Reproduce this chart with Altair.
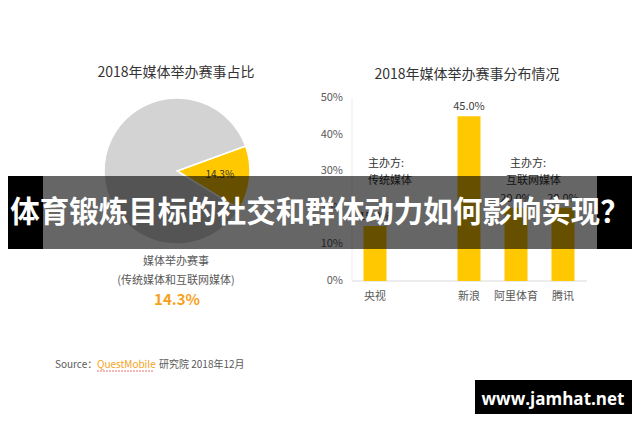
import math
import altair as alt
import pandas as pd

FONT = "Noto Sans CJK SC"
O = 8  # page margin compensation
W, H = 624, 406

# ---------------- data ----------------
pie_labels = ["媒体举办赛事", "其他赛事"]
pie_values = [14.3, 85.7]
pie_text = ["14.3%", ""]

bar_cats = ["央视", "新浪", "阿里体育", "腾讯"]
bar_values = [15.0, 45.0, 20.0, 20.0]
x_domain = ["央视", " ", "新浪", "阿里体育", "腾讯"]
y_ticks = [0, 10, 20, 30, 40, 50]

YELLOW = "#FFC800"
GRAY = "#D3D3D3"


def px(v):
    return v - O


one = pd.DataFrame({"k": [0]})


def label(txt, x, y, size=11, color="#333333", weight="normal", align="center", font=FONT):
    return alt.Chart(one).mark_text(
        text=txt, fontSize=size, color=color, fontWeight=weight, align=align,
        baseline="middle", font=font
    ).encode(x=alt.value(px(x)), y=alt.value(px(y)))


def rect(x0, x1, y0, y1, color="black", opacity=1.0):
    return alt.Chart(one).mark_rect(color=color, opacity=opacity).encode(
        x=alt.value(px(x0)), x2=alt.value(px(x1)), y=alt.value(px(y0)), y2=alt.value(px(y1))
    )


# ---------------- pie ----------------
pie_df = pd.DataFrame({"label": pie_labels, "value": pie_values, "txt": pie_text, "idx": [0, 1]})
start = math.radians(70)
theta_scale = alt.Scale(domain=[0, 100], range=[start, start + 2 * math.pi])
theta = alt.Theta("value:Q", stack=True, scale=theta_scale)
cx, cy = 177, 171

pie = alt.Chart(pie_df).mark_arc(outerRadius=73, stroke="white", strokeWidth=1.5).encode(
    theta=theta,
    color=alt.Color("label:N", scale=alt.Scale(domain=pie_labels, range=[YELLOW, GRAY]), legend=None),
    order=alt.Order("idx:Q"),
    x=alt.value(px(cx)), y=alt.value(px(cy)),
)
pie_lbl = alt.Chart(pie_df).mark_text(radius=43, fontSize=10, color="#333333", font=FONT).encode(
    theta=theta, order=alt.Order("idx:Q"), text="txt:N",
    x=alt.value(px(cx)), y=alt.value(px(cy)),
)

# ---------------- bars ----------------
bar_df = pd.DataFrame({"cat": bar_cats, "value": bar_values,
                       "txt": [f"{v:.1f}%" for v in bar_values]})
xs = alt.Scale(domain=x_domain, range=[px(351.5), px(586.5)], paddingInner=0, paddingOuter=0)
ys = alt.Scale(domain=[0, 50], range=[px(281), px(98)])

bars = alt.Chart(bar_df).mark_bar(size=23, color=YELLOW).encode(
    x=alt.X("cat:N", scale=xs, axis=None),
    y=alt.Y("value:Q", scale=ys, axis=None),
)
bar_txt = alt.Chart(bar_df).mark_text(baseline="bottom", dy=-4, fontSize=11, color="#404040", font=FONT).encode(
    x=alt.X("cat:N", scale=xs, axis=None),
    y=alt.Y("value:Q", scale=ys, axis=None),
    text="txt:N",
)
ytick_df = pd.DataFrame({"v": y_ticks, "t": [f"{v}%" for v in y_ticks]})
ylabels = alt.Chart(ytick_df).mark_text(align="right", baseline="middle", fontSize=11,
                                        color="#595959", font=FONT).encode(
    x=alt.value(px(343)), y=alt.Y("v:Q", scale=ys, axis=None), text="t:N"
)
xlab_df = pd.DataFrame({"cat": bar_cats})
xlabels = alt.Chart(xlab_df).mark_text(baseline="middle", fontSize=11, color="#595959", font=FONT).encode(
    x=alt.X("cat:N", scale=xs, axis=None), y=alt.value(px(297)), text="cat:N"
)
yaxis = alt.Chart(one).mark_rule(color="#ededed").encode(
    x=alt.value(px(352)), y=alt.value(px(98)), y2=alt.value(px(281)))
xaxis = alt.Chart(one).mark_rule(color="#d9d9d9").encode(
    x=alt.value(px(352)), x2=alt.value(px(587)), y=alt.value(px(281)))

# ---------------- texts ----------------
texts = [
    label("2018年媒体举办赛事占比", 176, 73, size=14, color="#333333"),
    label("2018年媒体举办赛事分布情况", 467, 75, size=14, color="#333333"),
    label("媒体举办赛事", 176, 262, size=11, color="#595959"),
    label("(传统媒体和互联网媒体)", 176, 281, size=11, color="#595959"),
    label("14.3%", 177, 300, size=15, color="#F7A11A", weight="bold"),
    label("主办方:", 368, 164, size=11, color="#333333", align="left"),
    label("传统媒体", 368, 181, size=11, color="#333333", align="left"),
    label("主办方:", 510, 164, size=11, color="#333333", align="left"),
    label("互联网媒体", 506, 181, size=11, color="#333333", align="left"),
    label("Source：", 55, 365, size=10, color="#595959", align="left"),
    label("QuestMobile", 97, 365, size=10, color="#F7A11A", align="left"),
    label("研究院 2018年12月", 159, 365, size=10, color="#595959", align="left"),
]
underline = alt.Chart(one).mark_rule(color="#E57373", strokeWidth=1, strokeDash=[2, 1]).encode(
    x=alt.value(px(97)), x2=alt.value(px(154)), y=alt.value(px(371)))

# ---------------- overlay banner & watermark ----------------
banner = [
    rect(0, 43, 176, 249, "black", 1.0),
    rect(43, 597, 176, 249, "black", 0.6),
    rect(597, 640, 176, 249, "black", 1.0),
    label("体育锻炼目标的社交和群体动力如何影响实现？", 320, 213, size=29.5, color="white", weight="bold"),
    rect(475, 632, 380, 418, "black", 1.0),
    label("www.jamhat.net", 553, 400, size=17, color="white", weight="bold", font="Open Sans"),
]

chart = alt.layer(
    pie, pie_lbl, yaxis, xaxis, bars, bar_txt, ylabels, xlabels, *texts, underline, *banner
).properties(
    width=W, height=H, padding=0, autosize=alt.AutoSizeParams(type="none")
).configure_view(stroke=None)

chart.save("out.html", embed_options={"renderer": "svg", "actions": False})
